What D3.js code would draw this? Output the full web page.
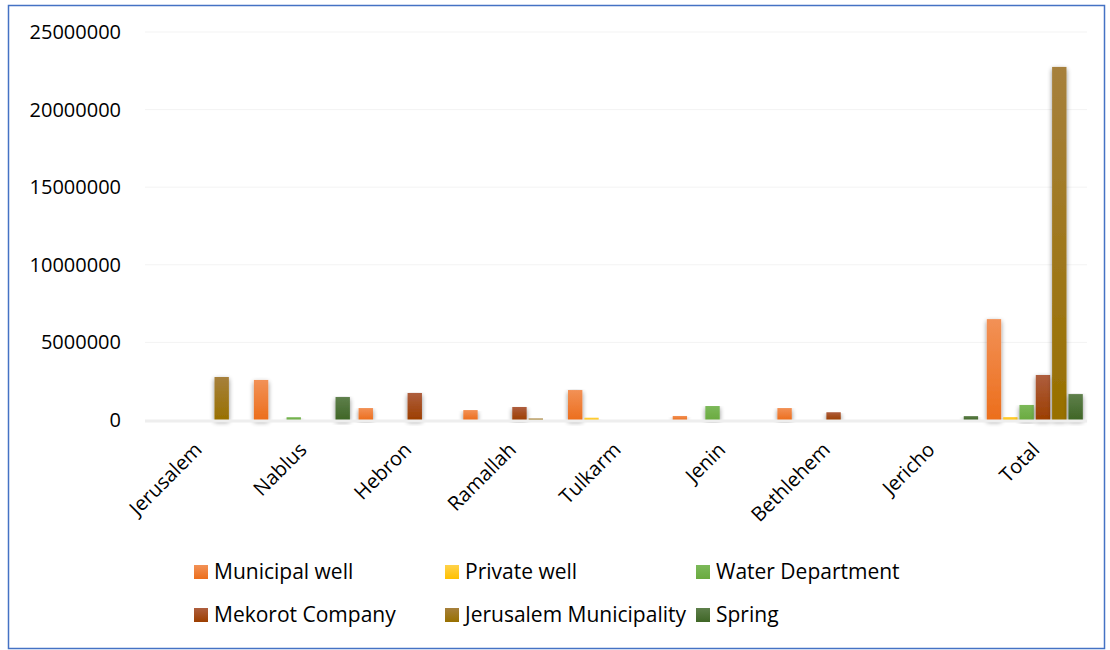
<!DOCTYPE html>
<html>
<head>
<meta charset="utf-8">
<script src="https://cdn.jsdelivr.net/npm/d3@7"></script>
<style>
  body { margin: 0; background: #fff; }
  svg { display: block; font-family: "Open Sans", "Noto Sans", sans-serif; }
</style>
</head>
<body>
<svg id="chart" width="1110" height="650"></svg>
<script>
// Water supply volumes by governorate and source
const cities = ["Jerusalem", "Nablus", "Hebron", "Ramallah", "Tulkarm", "Jenin", "Bethlehem", "Jericho", "Total"];
const sources = ["Municipal well", "Private well", "Water Department", "Mekorot Company", "Jerusalem Municipality", "Spring"];

const municipalWell      = [0, 2580000, 770000, 640000, 1930000, 260000, 770000, 0, 6500000];
const privateWell        = [0, 0, 0, 0, 150000, 0, 0, 0, 190000];
const waterDepartment    = [0, 180000, 0, 0, 0, 900000, 0, 0, 970000];
const mekorotCompany     = [0, 0, 1740000, 840000, 0, 0, 500000, 0, 2900000];
const jerusalemMunicip   = [2770000, 0, 0, 100000, 0, 0, 0, 0, 22750000];
const spring             = [0, 1480000, 0, 0, 0, 0, 0, 250000, 1670000];

const yTicks = [0, 5000000, 10000000, 15000000, 20000000, 25000000];

const seriesValues = [municipalWell, privateWell, waterDepartment, mekorotCompany, jerusalemMunicip, spring];
// top / bottom colours for each series gradient
const colorsTop    = ["#F29156", "#FFD24A", "#7CB95A", "#AE5E3E", "#A6803C", "#5E7F4B"];
const colorsBottom = ["#EC6E1C", "#FFC000", "#6AAA3F", "#9C3E00", "#987000", "#3F6626"];

const FONT = "'Open Sans', 'Noto Sans', sans-serif";
const svg = d3.select("#chart");

// outer frame
svg.append("rect").attr("x", 8.5).attr("y", 5.5).attr("width", 1096).attr("height", 643)
  .attr("fill", "#fff").attr("stroke", "#4472C4").attr("stroke-width", 1.5);

const defs = svg.append("defs");
sources.forEach((s, i) => {
  const g = defs.append("linearGradient").attr("id", "grad" + i)
    .attr("x1", 0).attr("y1", 0).attr("x2", 0).attr("y2", 1);
  g.append("stop").attr("offset", "0%").attr("stop-color", colorsTop[i]);
  g.append("stop").attr("offset", "100%").attr("stop-color", colorsBottom[i]);
});
const shadow = defs.append("filter").attr("id", "shadow")
  .attr("x", "-60%").attr("y", "-10%").attr("width", "220%").attr("height", "130%");
shadow.append("feGaussianBlur").attr("in", "SourceAlpha").attr("stdDeviation", 2.5).attr("result", "b");
shadow.append("feOffset").attr("in", "b").attr("dx", 0).attr("dy", 2).attr("result", "o");
shadow.append("feComponentTransfer").attr("in", "o").attr("result", "s")
  .append("feFuncA").attr("type", "linear").attr("slope", 0.45);
const fm = shadow.append("feMerge");
fm.append("feMergeNode").attr("in", "s");
fm.append("feMergeNode").attr("in", "SourceGraphic");

const plotLeft = 145, plotRight = 1087, plotTop = 32, plotBottom = 420;

const x0 = d3.scaleBand().domain(cities).range([plotLeft, plotRight]).paddingInner(0.083).paddingOuter(0.04);
const x1 = d3.scaleBand().domain(d3.range(sources.length)).range([0, x0.bandwidth()]).paddingInner(0.12);
const y = d3.scaleLinear().domain([0, 25000000]).range([plotBottom, plotTop]);

// gridlines
svg.append("g").selectAll("line").data(yTicks.slice(1)).join("line")
  .attr("x1", plotLeft).attr("x2", plotRight)
  .attr("y1", d => y(d)).attr("y2", d => y(d))
  .attr("stroke", "#f3f3f3").attr("stroke-width", 1);

// y axis labels
const yAxis = d3.axisLeft(y).tickValues(yTicks).tickFormat(d3.format("d")).tickSize(0).tickPadding(0);
const yg = svg.append("g").attr("transform", "translate(121,0)").call(yAxis);
yg.select(".domain").remove();
yg.selectAll("text").attr("font-size", 20).attr("fill", "#000").attr("font-family", FONT);

// bars
const groups = svg.append("g").selectAll("g").data(cities).join("g")
  .attr("transform", d => `translate(${x0(d)},0)`);
groups.selectAll("rect")
  .data((c, ci) => seriesValues.map((vals, si) => ({ si, v: vals[ci] })).filter(d => d.v > 0))
  .join("rect")
  .attr("x", d => x1(d.si))
  .attr("width", x1.bandwidth())
  .attr("y", d => y(d.v))
  .attr("height", d => y(0) - y(d.v))
  .attr("fill", d => `url(#grad${d.si})`)
  .attr("filter", "url(#shadow)");

// baseline
svg.append("line").attr("x1", plotLeft).attr("x2", plotRight).attr("y1", plotBottom + 1).attr("y2", plotBottom + 1)
  .attr("stroke", "#eeeeee").attr("stroke-width", 3);

// x axis labels, rotated
const xAxis = d3.axisBottom(x0).tickSize(0).tickPadding(0);
const xg = svg.append("g").attr("transform", `translate(0,${plotBottom})`).call(xAxis);
xg.select(".domain").remove();
xg.selectAll("text")
  .attr("font-size", 20).attr("fill", "#000").attr("font-family", FONT)
  .attr("text-anchor", "end")
  .attr("dy", 0)
  .attr("transform", "translate(6,31) rotate(-45)");

// legend
const legendPos = [[194, 572], [445, 572], [696, 572], [194, 615], [445, 615], [696, 615]];
const lg = svg.append("g").selectAll("g").data(sources).join("g")
  .attr("transform", (d, i) => `translate(${legendPos[i][0]},${legendPos[i][1]})`);
lg.append("rect").attr("x", 0).attr("y", -7).attr("width", 14).attr("height", 14)
  .attr("fill", (d, i) => `url(#grad${i})`);
lg.append("text").attr("x", 20).attr("y", 0).attr("dy", "0.35em")
  .attr("font-size", 21).attr("fill", "#000").attr("font-family", FONT).text(d => d);
</script>
</body>
</html>
